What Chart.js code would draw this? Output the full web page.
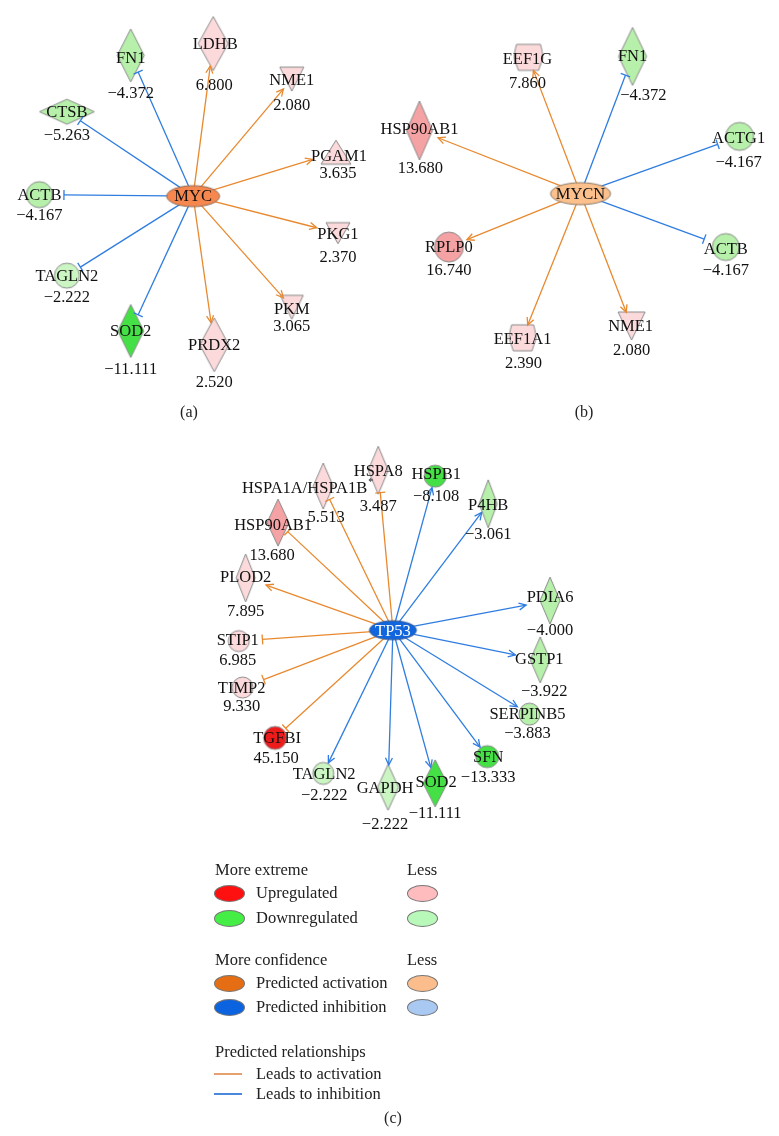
<!DOCTYPE html>
<html>
<head>
<meta charset="utf-8">
<script src="https://cdn.jsdelivr.net/npm/chart.js@4.4.1/dist/chart.umd.min.js"></script>
<style>
  body { margin: 0; background: #fff; }
  #wrap { position: relative; width: 779px; height: 1136px; }
  #net { position: absolute; left: 0; top: 0; }
  .t { position: absolute; font-family: "Liberation Serif", "DejaVu Serif", serif; font-size: 16.5px; color: #222;
       white-space: nowrap; transform: translateY(-50%); line-height: 1; }
  .cap { font-size: 16px; transform: translate(-50%, -50%); }
  .ell { position: absolute; width: 29px; height: 15px; border-radius: 50%; border: 1px solid #777; }
  .ln { position: absolute; width: 28px; height: 2px; }
</style>
</head>
<body>
<div id="wrap">
  <canvas id="net" width="779" height="1136"></canvas>
  <div id="legend"></div>
</div>
<script>
const FONT = '"Liberation Serif", "DejaVu Serif", serif';
const LABEL_SIZE = 16.5;
const W = 779, H = 1136;

// ---- data: (a) MYC ----
const hubA = 'MYC';
const genesA = ['FN1', 'LDHB', 'NME1', 'CTSB', 'PGAM1', 'ACTB', 'PKG1', 'TAGLN2', 'SOD2', 'PRDX2', 'PKM'];
const foldA = [-4.372, 6.800, 2.080, -5.263, 3.635, -4.167, 2.370, -2.222, -11.111, 2.520, 3.065];
const relA = ['inh', 'act', 'act', 'inh', 'act', 'inh', 'act', 'inh', 'inh', 'act', 'act'];
const typeA = ['enzyme', 'enzyme', 'kinase', 'peptidase', 'phosphatase', 'other', 'kinase', 'other', 'enzyme', 'enzyme', 'kinase'];

// ---- data: (b) MYCN ----
const hubB = 'MYCN';
const genesB = ['EEF1G', 'FN1', 'HSP90AB1', 'ACTG1', 'RPLP0', 'ACTB', 'EEF1A1', 'NME1'];
const foldB = [7.860, -4.372, 13.680, -4.167, 16.740, -4.167, 2.390, 2.080];
const relB = ['act', 'inh', 'act', 'inh', 'act', 'inh', 'act', 'act'];
const typeB = ['translation', 'enzyme', 'enzyme', 'other', 'other', 'other', 'translation', 'kinase'];

// ---- data: (c) TP53 ----
const hubC = 'TP53';
const genesC = ['HSPA1A/HSPA1B*', 'HSPA8', 'HSPB1', 'P4HB', 'HSP90AB1', 'PLOD2', 'PDIA6', 'STIP1',
                'GSTP1', 'TIMP2', 'SERPINB5', 'TGFBI', 'SFN', 'TAGLN2', 'GAPDH', 'SOD2'];
const foldC = [5.513, 3.487, -8.108, -3.061, 13.680, 7.895, -4.000, 6.985,
               -3.922, 9.330, -3.883, 45.150, -13.333, -2.222, -2.222, -11.111];
const relC = ['act', 'act', 'inh', 'inh', 'act', 'act', 'inh', 'act', 'inh', 'act', 'inh', 'act', 'inh', 'inh', 'inh', 'inh'];
const endC = ['bar', 'bar', 'arrow', 'arrow', 'bar', 'arrow', 'arrow', 'bar', 'arrow', 'bar', 'arrow', 'bar', 'arrow', 'arrow', 'arrow', 'arrow'];
const typeC = ['enzyme', 'enzyme', 'other', 'enzyme', 'enzyme', 'enzyme', 'enzyme', 'other',
               'enzyme', 'other', 'other', 'other', 'other', 'other', 'enzyme', 'enzyme'];

// ---- layout: [x, y, w, h, nameX, nameY, valueX, valueY] ----
const hubPosA = [189.5, 191.5, 53, 21];
const posA = [
  [126, 49, 27, 53, 126, 52, 126, 88], [210, 37, 30, 54, 212, 38, 211, 80], [290, 73, 24, 24, 290, 75, 290, 100],
  [61, 106, 55, 25, 61, 107, 61, 130], [335, 147, 30, 24, 338, 152, 337, 169], [33, 190, 26, 26, 33, 191, 33, 211],
  [337, 229, 24, 21, 337, 231, 337, 254], [61, 272, 25, 25, 61, 273, 61, 294], [126, 328, 26, 53, 126, 329, 126, 367],
  [211, 342, 29, 54, 211, 343, 211, 380], [290, 304, 23, 24, 290, 306, 290, 324]
];
const hubPosB = [584, 189, 60, 22];
const posB = [
  [531, 51, 28, 26, 530, 53, 530, 78], [637, 50, 28, 58, 637, 50, 648, 90], [420, 125, 26, 59, 420, 124, 421, 164],
  [746, 131, 28, 28, 745, 133, 745, 158], [450, 243, 29, 30, 450, 244, 450, 267], [732, 243, 27, 27, 732, 246, 732, 267],
  [525, 335, 26, 26, 525, 337, 526, 361], [636, 323, 27, 28, 635, 324, 636, 348]
];
const hubPosC = [393, 631, 47, 19];
const posC = [
  [322, 485, 20, 46, 303, 488, 325, 517], [378, 469, 20, 48, 378, 470, 378, 506], [436, 475, 22, 22, 437, 474, 437, 496],
  [490, 503, 18, 48, 490, 505, 490, 534], [276, 522, 22, 47, 271, 525, 270, 556], [243, 578, 19, 48, 243, 578, 243, 612],
  [553, 601, 20, 47, 553, 598, 553, 631], [236, 642, 21, 21, 235, 642, 235, 662], [543, 661, 20, 46, 542, 661, 547, 693],
  [240, 689, 21, 21, 239, 690, 239, 708], [532, 716, 21, 22, 530, 716, 530, 736], [273, 740, 23, 23, 275, 741, 274, 761],
  [489, 759, 23, 22, 490, 760, 490, 780], [322, 776, 21, 22, 323, 777, 323, 799], [388, 790, 21, 46, 385, 791, 385, 828],
  [436, 786, 24, 47, 437, 785, 436, 817]
];

const EDGE_COLOR = { act: '#e8892f', inh: '#2f7de0' };
const STROKE = '#8a8a8a';

function fillFor(v) {
  if (v >= 20) return '#ee1b1b';
  if (v >= 10) return '#f4a2a4';
  if (v > 0) return '#fcdadb';
  if (v <= -8) return '#45e045';
  if (v <= -3) return '#b6f0aa';
  return '#cbf5c3';
}

function fmt(v) {
  return (v < 0 ? '\u2212' : '') + Math.abs(v).toFixed(3);
}

// draws the molecule glyph into a small canvas that Chart.js uses as pointStyle
function makeGlyph(type, w, h, fill, stroke) {
  const pad = 2;
  const c = document.createElement('canvas');
  c.width = Math.ceil(w + pad * 2);
  c.height = Math.ceil(h + pad * 2);
  const g = c.getContext('2d');
  g.translate(c.width / 2, c.height / 2);
  const hw = w / 2, hh = h / 2;
  g.beginPath();
  if (type === 'enzyme' || type === 'peptidase') {
    g.moveTo(0, -hh); g.lineTo(hw, 0); g.lineTo(0, hh); g.lineTo(-hw, 0); g.closePath();
  } else if (type === 'kinase') {
    g.moveTo(-hw, -hh); g.lineTo(hw, -hh); g.lineTo(0, hh); g.closePath();
  } else if (type === 'phosphatase') {
    g.moveTo(0, -hh); g.lineTo(hw, hh); g.lineTo(-hw, hh); g.closePath();
  } else if (type === 'translation') {
    g.moveTo(-hw + 2, -hh); g.lineTo(hw - 2, -hh);
    g.quadraticCurveTo(hw + 1, -hh * 0.2, hw, hh * 0.15);
    g.lineTo(hw * 0.72, hh); g.lineTo(-hw * 0.72, hh); g.lineTo(-hw, hh * 0.15);
    g.quadraticCurveTo(-hw - 1, -hh * 0.2, -hw + 2, -hh);
    g.closePath();
  } else {
    g.ellipse(0, 0, hw, hh, 0, 0, Math.PI * 2);
  }
  g.fillStyle = fill;
  g.fill();
  g.lineWidth = 1;
  g.strokeStyle = stroke;
  g.stroke();
  return c;
}

const measure = document.createElement('canvas').getContext('2d');
measure.font = LABEL_SIZE + 'px ' + FONT;

// distance from the node centre to where an edge should stop
function stopDistance(type, p, name, ux, uy) {
  const hw = p[2] / 2, hh = p[3] / 2;
  const ax = Math.abs(ux) + 1e-6, ay = Math.abs(uy) + 1e-6;
  let t;
  if (type === 'enzyme' || type === 'peptidase') t = 1 / (ax / hw + ay / hh);
  else t = 1 / Math.sqrt((ax / hw) ** 2 + (ay / hh) ** 2);
  const lw = measure.measureText(name.replace('*', '')).width / 2;
  const tl = Math.min(lw / ax, 7 / ay);
  return Math.max(t, tl);
}

const nodePoints = [], nodeStyles = [], labels = [];
const edgeSets = [];

function addPanel(hub, hubPos, hubFill, hubStroke, hubText, genes, folds, rels, ends, types, pos) {
  nodePoints.push({ x: hubPos[0], y: hubPos[1] });
  nodeStyles.push(makeGlyph('hub', hubPos[2], hubPos[3], hubFill, hubStroke));
  labels.push({ text: hub, x: hubPos[0], y: hubPos[1] + 1, color: hubText });
  genes.forEach((gene, i) => {
    const p = pos[i];
    nodePoints.push({ x: p[0], y: p[1] });
    nodeStyles.push(makeGlyph(types[i], p[2], p[3], fillFor(folds[i]), STROKE));
    labels.push({ text: gene, x: p[4], y: p[5], color: '#111' });
    labels.push({ text: fmt(folds[i]), x: p[6], y: p[7], color: '#111' });
    const dx = p[0] - hubPos[0], dy = p[1] - hubPos[1];
    const len = Math.hypot(dx, dy);
    const ux = dx / len, uy = dy / len;
    const head = ends ? ends[i] : (rels[i] === 'act' ? 'arrow' : 'bar');
    const t = stopDistance(types[i], p, gene, ux, uy) + (head === 'bar' ? 3 : 1);
    edgeSets.push({
      data: [{ x: hubPos[0], y: hubPos[1] }, { x: p[0] - ux * t, y: p[1] - uy * t }],
      showLine: true,
      borderColor: EDGE_COLOR[rels[i]],
      borderWidth: 1.3,
      pointRadius: 0,
      order: 1,
      head: head
    });
  });
}

addPanel(hubA, hubPosA, '#f5874f', '#8a6a55', '#111', genesA, foldA, relA, null, typeA, posA);
addPanel(hubB, hubPosB, '#fcc08c', '#8a7a6a', '#111', genesB, foldB, relB, null, typeB, posB);
addPanel(hubC, hubPosC, '#1166dd', '#3a5a90', '#fff', genesC, foldC, relC, endC, typeC, posC);

const edgeHeads = {
  id: 'edgeHeads',
  afterDatasetsDraw(chart) {
    const ctx = chart.ctx;
    chart.data.datasets.forEach((ds, i) => {
      if (!ds.head) return;
      const pts = chart.getDatasetMeta(i).data;
      const a = pts[0], b = pts[1];
      const ang = Math.atan2(b.y - a.y, b.x - a.x);
      ctx.save();
      ctx.strokeStyle = ds.borderColor;
      ctx.lineWidth = 1.3;
      ctx.beginPath();
      if (ds.head === 'arrow') {
        const L = 8, s = 0.45;
        ctx.moveTo(b.x - L * Math.cos(ang - s), b.y - L * Math.sin(ang - s));
        ctx.lineTo(b.x, b.y);
        ctx.lineTo(b.x - L * Math.cos(ang + s), b.y - L * Math.sin(ang + s));
      } else {
        const L = 5;
        ctx.moveTo(b.x + L * Math.sin(ang), b.y - L * Math.cos(ang));
        ctx.lineTo(b.x - L * Math.sin(ang), b.y + L * Math.cos(ang));
      }
      ctx.stroke();
      ctx.restore();
    });
  }
};

const nodeLabels = {
  id: 'nodeLabels',
  afterDraw(chart) {
    const ctx = chart.ctx;
    const sx = chart.scales.x, sy = chart.scales.y;
    ctx.save();
    ctx.textAlign = 'center';
    ctx.textBaseline = 'middle';
    labels.forEach(l => {
      const x = sx.getPixelForValue(l.x), y = sy.getPixelForValue(l.y);
      ctx.fillStyle = l.color;
      ctx.font = LABEL_SIZE + 'px ' + FONT;
      if (l.text.endsWith('*')) {
        const base = l.text.slice(0, -1);
        ctx.fillText(base, x, y);
        const w = ctx.measureText(base).width;
        ctx.font = '10px ' + FONT;
        ctx.textAlign = 'left';
        ctx.fillText('*', x + w / 2 + 1, y - 7);
        ctx.textAlign = 'center';
      } else {
        ctx.fillText(l.text, x, y);
      }
    });
    ctx.restore();
  }
};

new Chart(document.getElementById('net'), {
  type: 'scatter',
  data: {
    datasets: [{
      data: nodePoints,
      pointStyle: nodeStyles,
      pointRadius: 6,
      order: 0
    }].concat(edgeSets)
  },
  options: {
    responsive: false,
    animation: false,
    events: [],
    layout: { padding: 0 },
    plugins: { legend: { display: false }, tooltip: { enabled: false } },
    scales: {
      x: { type: 'linear', min: 0, max: W, display: false },
      y: { type: 'linear', min: 0, max: H, reverse: true, display: false }
    }
  },
  plugins: [edgeHeads, nodeLabels]
});

// ---- legend and captions (HTML text) ----
const legendHeads = ['More extreme', 'More confidence', 'Predicted relationships'];
const legendNodes = ['Upregulated', 'Downregulated', 'Predicted activation', 'Predicted inhibition'];
const legendStrong = ['#ff1010', '#44ee44', '#e56d14', '#0b63e0'];
const legendWeak = ['#ffbcbf', '#b8f8b8', '#fbbd8c', '#a9c8f2'];
const legendEdges = ['Leads to activation', 'Leads to inhibition'];
const legendEdgeColors = ['#e6a070', '#4a88de'];
const captions = ['(a)', '(b)', '(c)'];

const lg = document.getElementById('legend');
function text(str, left, cy, cls) {
  const d = document.createElement('div');
  d.className = 't' + (cls ? ' ' + cls : '');
  d.textContent = str;
  d.style.left = left + 'px';
  d.style.top = cy + 'px';
  lg.appendChild(d);
}
function ell(color, left, cy) {
  const d = document.createElement('div');
  d.className = 'ell';
  d.style.background = color;
  d.style.left = left + 'px';
  d.style.top = (cy - 8) + 'px';
  lg.appendChild(d);
}
const headY = [870, 960, 1052];
headY.forEach((y, i) => text(legendHeads[i], 215, y));
text('Less', 407, 870);
text('Less', 407, 960);
const rowY = [893, 918, 983, 1007];
legendNodes.forEach((s, i) => {
  ell(legendStrong[i], 214, rowY[i]);
  text(s, 256, rowY[i]);
  ell(legendWeak[i], 407, rowY[i]);
});
[1074, 1094].forEach((y, i) => {
  const d = document.createElement('div');
  d.className = 'ln';
  d.style.background = legendEdgeColors[i];
  d.style.left = '214px';
  d.style.top = (y - 1) + 'px';
  lg.appendChild(d);
  text(legendEdges[i], 256, y);
});
text(captions[0], 189, 412, 'cap');
text(captions[1], 584, 412, 'cap');
text(captions[2], 393, 1118, 'cap');
</script>
</body>
</html>
